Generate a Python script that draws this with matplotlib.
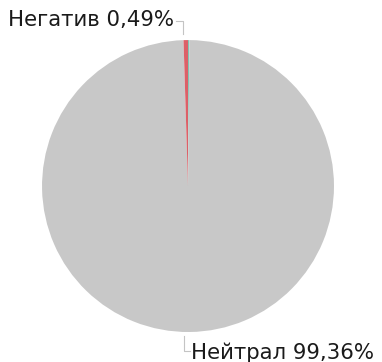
import numpy as np
import matplotlib
matplotlib.use("Agg")
import matplotlib.pyplot as plt

labels = ["Позитив", "Нейтрал", "Негатив"]
shares = [0.15, 99.36, 0.49]
colors = ["#7fc4b4", "#c8c8c8", "#dc6068"]
shown = ["Нейтрал", "Негатив"]

fig = plt.figure(figsize=(3.82, 3.62), dpi=100)
ax = fig.add_axes([0, 0, 1, 1])
ax.axis("off")

wedges, _ = ax.pie(shares, colors=colors, startangle=90, counterclock=False,
                   radius=1.0, wedgeprops=dict(linewidth=0))

ax.set_xlim(-1.288, 1.329)
ax.set_ylim(-1.205, 1.274)
ax.set_aspect("equal")

line_col = "#c4c4c4"
for w, lab, val in zip(wedges, labels, shares):
    if lab not in shown:
        continue
    mid = np.deg2rad((w.theta1 + w.theta2) / 2)
    x0, y0 = np.cos(mid), np.sin(mid)
    txt = f"{lab} {val:.2f}%".replace(".", ",")
    if y0 > 0:
        ly = 1.13
        xv = x0 - 0.02
        ax.plot([xv, xv, xv - 0.05], [1.04, ly, ly], color=line_col, lw=0.8)
        ax.text(xv - 0.06, ly + 0.01, txt, ha="right", va="center",
                fontsize=15.3, color="#1a1a1a")
    else:
        ly = -1.13
        xv = x0 - 0.04
        ax.plot([xv, xv, xv + 0.04], [-1.03, ly, ly], color=line_col, lw=0.8)
        ax.text(xv + 0.05, ly - 0.01, txt, ha="left", va="center",
                fontsize=15.3, color="#1a1a1a")

fig.savefig("out.png", dpi=100)
